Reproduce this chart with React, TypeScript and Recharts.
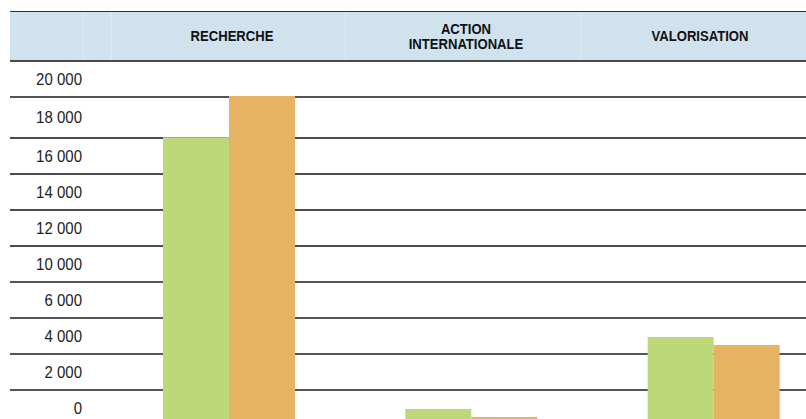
import React from 'react';
import { BarChart, Bar, XAxis, YAxis, CartesianGrid } from 'recharts';

// ---- data ----
const categories = ['RECHERCHE', 'ACTION INTERNATIONALE', 'VALORISATION'];
const greenValues = [16050, 940, 4940];
const orangeValues = [18330, 500, 4500];
// row boundaries of the value table (bottom to top)
const rowBounds = [0, 2000, 4000, 6000, 8000, 10000, 12000, 14000, 16000, 18280, 20280];
// row labels (bottom to top)
const rowLabels = ['0', '2 000', '4 000', '6 000', '10 000', '12 000', '14 000', '16 000', '18 000', '20 000'];

const data = categories.map((cat, i) => ({ cat, green: greenValues[i], orange: orangeValues[i] }));
const labelTicks = rowLabels.map((_, i) => (rowBounds[i] + rowBounds[i + 1]) / 2);
const labelByTick = new Map(labelTicks.map((v, i) => [v, rowLabels[i]]));

const GREEN = '#bcd878';
const ORANGE = '#e6b264';
const HEAD_BG = '#cfe2ee';

const HeaderTick = (props: any) => {
  const { x, y, payload } = props;
  const words = String(payload.value).split(' ');
  const lh = 15;
  return (
    <g>
      {words.map((w: string, i: number) => (
        <g key={i} transform={`translate(${x},${y + (i - (words.length - 1) / 2) * lh}) scale(0.97,1.06)`}>
          <text
            x={0}
            y={0}
            dy="0.36em"
            textAnchor="middle"
            fontFamily="'Liberation Sans', Arial, sans-serif"
            fontWeight={700}
            fontSize={13.5}
            fill="#111"
          >
            {w}
          </text>
        </g>
      ))}
    </g>
  );
};

const RowLabelTick = (props: any) => {
  const { x, y, payload } = props;
  return (
    <g transform={`translate(${x},${y}) scale(1,1.08)`}>
      <text
        x={0}
        y={0}
        dy="0.36em"
        textAnchor="end"
        fontFamily="'Liberation Sans', Arial, sans-serif"
        fontSize={15}
        fill="#222"
      >
        {labelByTick.get(payload.value)}
      </text>
    </g>
  );
};

const gridLine = (props: any) => {
  const { x1, x2, y1, index, key } = props;
  if (index === 0 || index === rowBounds.length - 1) return <g key={key} />;
  const dark = index >= 5 && index <= 8;
  return (
    <line
      key={key}
      x1={x1}
      x2={x2}
      y1={y1}
      y2={y1}
      stroke={dark ? '#111' : '#555'}
      strokeWidth={dark ? 1.5 : 2}
    />
  );
};

const sepXs = [83, 111, 345, 580];

export default function App() {
  return (
    <div
      style={{
        position: 'absolute',
        left: 0,
        top: 0,
        width: 806,
        height: 419,
        overflow: 'hidden',
        background: '#fff',
      }}
    >
      <div
        style={{
          position: 'absolute',
          left: 10,
          top: 11,
          width: 796,
          height: 51,
          boxSizing: 'border-box',
          background: HEAD_BG,
          borderTop: '1px solid #333',
          borderBottom: '2px solid #4a4a4a',
        }}
      >
        {sepXs.map((sx) => (
          <div
            key={sx}
            style={{
              position: 'absolute',
              left: sx - 10,
              top: 0,
              width: 1,
              height: '100%',
              background: 'rgba(255,255,255,0.3)',
            }}
          />
        ))}
      </div>
      <div style={{ position: 'absolute', left: 0, top: 0 }}>
        <BarChart
          width={840}
          height={460}
          data={data}
          margin={{ top: 11, left: 10, right: 5, bottom: 34 }}
          barGap={0}
        >
          <CartesianGrid
            xAxisId="bars"
            yAxisId="grid"
            vertical={false}
            horizontal={gridLine}
            stroke="#111"
          />
          <XAxis
            xAxisId="head"
            dataKey="cat"
            orientation="top"
            height={50}
            axisLine={false}
            tickLine={false}
            tickSize={0}
            tickMargin={25}
            padding={{ left: 105, right: 18 }}
            interval={0}
            tick={<HeaderTick />}
          />
          <XAxis xAxisId="bars" dataKey="cat" hide padding={{ left: 98, right: 0 }} />
          <YAxis
            yAxisId="grid"
            type="number"
            domain={[rowBounds[0], rowBounds[rowBounds.length - 1]]}
            ticks={rowBounds}
            allowDataOverflow
            hide
          />
          <YAxis
            yAxisId="lab"
            type="number"
            domain={[rowBounds[0], rowBounds[rowBounds.length - 1]]}
            ticks={labelTicks}
            allowDataOverflow
            mirror
            axisLine={false}
            tickLine={false}
            tickSize={0}
            tickMargin={72}
            interval={0}
            tick={<RowLabelTick />}
          />
          <Bar xAxisId="bars" yAxisId="grid" dataKey="green" fill={GREEN} barSize={66} isAnimationActive={false} />
          <Bar xAxisId="bars" yAxisId="grid" dataKey="orange" fill={ORANGE} barSize={66} isAnimationActive={false} />
        </BarChart>
      </div>
    </div>
  );
}
